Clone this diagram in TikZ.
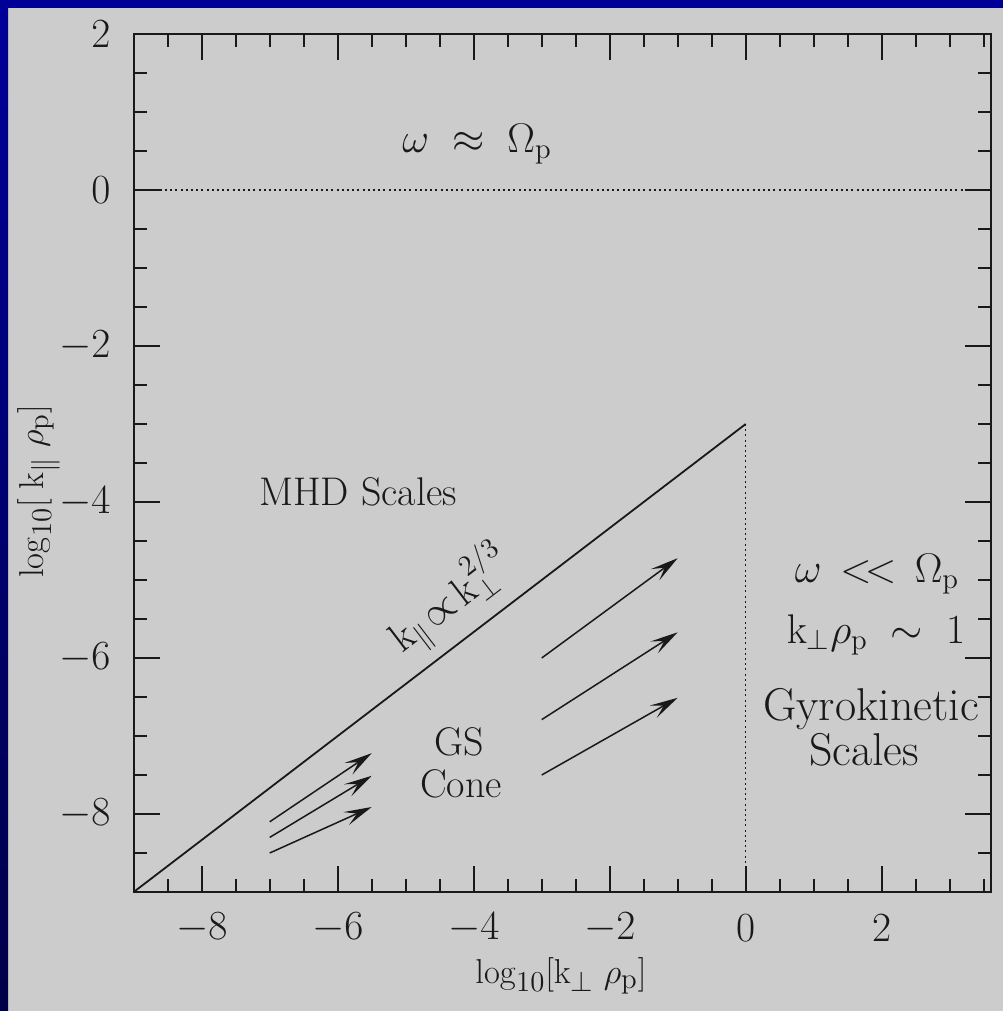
\documentclass[tikz,border=0pt]{standalone}
\usetikzlibrary{arrows.meta}
\definecolor{bgGray}{RGB}{204,204,204}
\definecolor{slideBlue}{RGB}{0,0,153}
\definecolor{slideNavy}{RGB}{0,0,72}
\definecolor{ink}{RGB}{25,25,25}
\tikzset{
  frameline/.style={draw=ink, line width=1pt},
  tickline/.style={draw=ink, line width=0.8pt},
  dotline/.style={draw=ink, line width=0.7pt, dash pattern=on 1pt off 1.6pt},
  conearrow/.style={draw=ink, line width=0.75pt, -{Stealth[length=14pt,width=7pt,inset=6pt]}},
  lbl/.style={text=ink, font=\fontsize{20}{24}\selectfont, inner sep=0pt},
  biglbl/.style={text=ink, font=\fontsize{23}{27}\selectfont, inner sep=0pt},
  ticklbl/.style={text=ink, font=\fontsize{20}{24}\selectfont, inner sep=0pt},
  axislbl/.style={text=ink, font=\fontsize{19}{23}\selectfont, inner sep=0pt}
}
\begin{document}
\begin{tikzpicture}[x=0.5pt,y=-0.5pt]
\useasboundingbox (0,0) rectangle (1003,1011);
\fill[bgGray] (0,0) rectangle (1003,1011);
\shade[top color=slideBlue, bottom color=slideNavy] (0,0) rectangle (8,1011);
\fill[slideBlue] (0,0) rectangle (1003,8);

\begin{scope}[shift={(745.7,190)}, x=34pt, y=39pt]
  % frame
  \draw[frameline] (-9,-9) rectangle (3.6,2);
  % ticks x
  \foreach \i in {1,...,25}{
    \pgfmathsetmacro\xx{-9+0.5*\i}
    \pgfmathsetmacro\tl{ifthenelse(mod(\i,4)==2,13,6.5)}
    \draw[tickline] (\xx,-9) -- ++(0,\tl pt);
    \draw[tickline] (\xx,2) -- ++(0,-\tl pt);
  }
  % ticks y
  \foreach \j in {1,...,21}{
    \pgfmathsetmacro\yy{-9+0.5*\j}
    \pgfmathsetmacro\tl{ifthenelse(mod(\j,4)==2,13,6.5)}
    \draw[tickline] (-9,\yy) -- ++(\tl pt,0);
    \draw[tickline] (3.6,\yy) -- ++(-\tl pt,0);
  }
  % tick labels
  \foreach \v/\nm in {-8/a,-6/b,-4/c,-2/d,0/e,2/f}{
    \node[ticklbl, yshift=-18pt] (xt\nm) at (\v,-9) {$\v$};
  }
  \foreach \v/\nm in {2/a,0/b,-2/c,-4/d,-6/e,-8/f}{
    \node[ticklbl, anchor=east, xshift=-11.5pt] (yt\nm) at (-9,\v) {$\v$};
  }
  % zero line and dotted boundaries
  \coordinate (zeroL) at (-9,0);
  \coordinate (zeroR) at (3.6,0);
  \draw[dotline] (zeroL) -- (zeroR);
  \draw[tickline] (zeroL) -- ++(13pt,0);
  \coordinate (lineStart) at (-9,-9);
  \coordinate (lineEnd) at (0,-3);
  \coordinate (vBottom) at (0,-9);
  \draw[draw=ink, line width=0.9pt] (lineStart) -- (lineEnd);
  \draw[dotline] (lineEnd) -- (vBottom);
  % arrows left group
  \coordinate (la1) at (-7,-8.1);  \coordinate (lb1) at (-5.5,-7.22);
  \coordinate (la2) at (-7,-8.3);  \coordinate (lb2) at (-5.5,-7.51);
  \coordinate (la3) at (-7,-8.5);  \coordinate (lb3) at (-5.5,-7.91);
  \draw[conearrow] (la1) -- (lb1);
  \draw[conearrow] (la2) -- (lb2);
  \draw[conearrow] (la3) -- (lb3);
  % arrows right group
  \coordinate (ra1) at (-3,-6);    \coordinate (rb1) at (-1,-4.72);
  \coordinate (ra2) at (-3,-6.79); \coordinate (rb2) at (-1,-5.67);
  \coordinate (ra3) at (-3,-7.5);  \coordinate (rb3) at (-1,-6.51);
  \draw[conearrow] (ra1) -- (rb1);
  \draw[conearrow] (ra2) -- (rb2);
  \draw[conearrow] (ra3) -- (rb3);
\end{scope}

% texts (pixel coordinates)
\node[lbl, anchor=base] (omegaP) at (477,152) {$\omega\;\approx\;\Omega_{\mathrm{p}}$};
\node[lbl, anchor=base] (mhd) at (358,505) {MHD Scales};
\node[lbl, rotate=37.4] (kline) at (450,600) {$\mathrm{k}_{\parallel}\!\propto\!\mathrm{k}_{\perp}^{2/3}$};
\node[lbl, anchor=base] (gs) at (459,755) {GS};
\node[lbl, anchor=base] (cone) at (461,797) {Cone};
\node[lbl, anchor=base] (omegaLL) at (877,582) {$\omega\,<\!<\,\Omega_{\mathrm{p}}$};
\node[lbl, anchor=base] (krho) at (876,643) {$\mathrm{k}_{\perp}\rho_{\mathrm{p}}\;\sim\;1$};
\node[biglbl, anchor=base] (gyro) at (871,720) {Gyrokinetic};
\node[biglbl, anchor=base] (gscales) at (864,765) {Scales};
\node[axislbl, anchor=base west] (xlabel) at (475,983) {$\log_{10}[\mathrm{k}_{\perp}\;\rho_{\mathrm{p}}]$};
\node[axislbl, anchor=base west, rotate=90] (ylabel) at (43,578) {$\log_{10}[\;\mathrm{k}_{\parallel}\;\rho_{\mathrm{p}}]$};
\end{tikzpicture}
\end{document}
